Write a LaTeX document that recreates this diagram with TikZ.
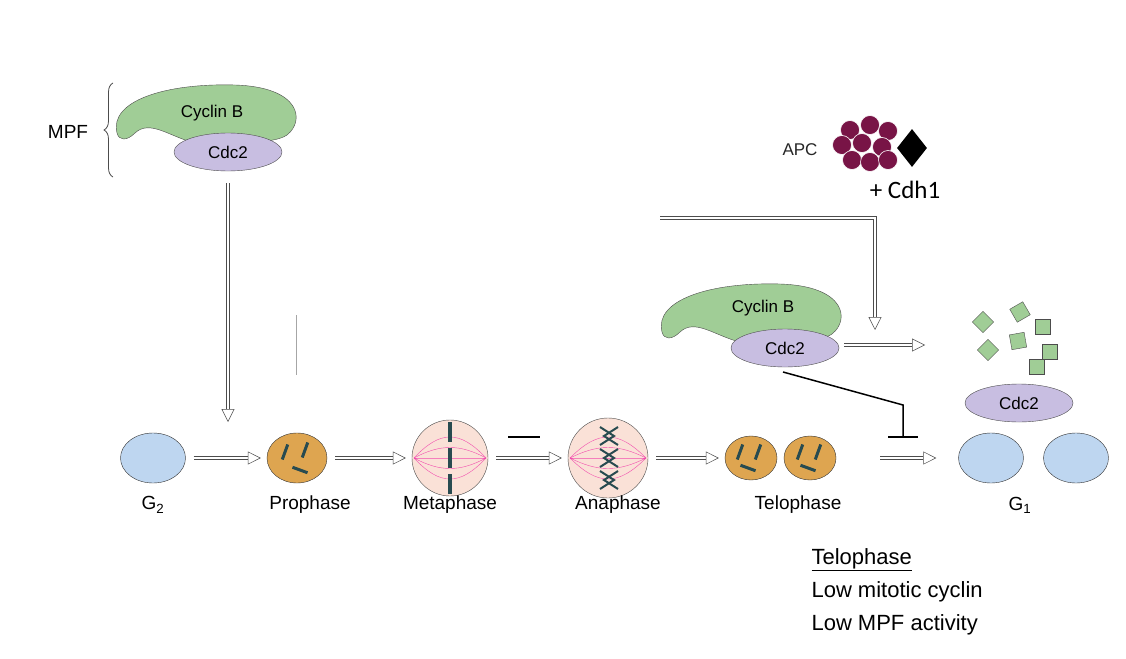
\documentclass[tikz,border=0pt]{standalone}
\usepackage{fontspec}
\setmainfont{Liberation Sans}
\newfontfamily\calib{Carlito}
\usetikzlibrary{arrows.meta,decorations.pathreplacing,shapes.geometric}
\definecolor{cellblue}{RGB}{190,214,240}
\definecolor{cyclin}{RGB}{160,205,150}
\definecolor{cdc}{RGB}{200,190,225}
\definecolor{proph}{RGB}{222,165,80}
\definecolor{spind}{RGB}{250,225,215}
\definecolor{apc}{RGB}{120,20,70}
\definecolor{chrom}{RGB}{40,75,80}
\tikzset{
  dbl/.style={draw=gray!60!black,double=white,double distance=2.4pt,line width=0.5pt,
    -{Triangle[open,length=13pt,width=13pt,fill=white]}},
  phasearr/.style={dbl,shorten <=8pt,shorten >=6pt},
  cell/.style={ellipse,draw=black!80,fill=cellblue,minimum width=65pt,minimum height=50pt},
  cdc2/.style={ellipse,draw=black!70,fill=cdc,minimum width=108pt,minimum height=38pt,font=\fontsize{17}{17}\selectfont},
  lab/.style={font=\fontsize{19}{19}\selectfont},
  note/.style={font=\fontsize{22}{26}\selectfont,anchor=west}
}
\newcommand\cyclinblob[2]{%
  \draw[black!70,fill=cyclin,shift={(#1,#2)}] (-88,20) .. controls (-96,-12) and (-40,-30) .. (30,-28)
    .. controls (96,-26) and (100,8) .. (82,22) .. controls (68,32) and (20,30) .. (-10,30)
    .. controls (-35,24) and (-55,6) .. (-70,20) .. controls (-78,28) and (-86,28) .. (-88,20) -- cycle;}
\begin{document}
\begin{tikzpicture}[x=1pt,y=-1pt]
\useasboundingbox[fill=white] (0,0) rectangle (1126,658);
% MPF complex
\node[lab] (mpf) at (68,132) {MPF};
\draw[decorate,decoration={brace,amplitude=9pt},black!70,line width=0.8pt] (113,177) -- (113,83);
\cyclinblob{205}{113}
\node[font=\fontsize{17}{17}\selectfont] (cycA) at (212,113) {Cyclin B};
\node[cdc2] (cdcA) at (228,152) {Cdc2};
% stages
\node[cell] (g2) at (153,458) {};
\node[ellipse,draw=black!80,fill=proph,minimum width=60pt,minimum height=50pt] (pro) at (297,458) {};
\node[circle,draw=black!70,fill=spind,minimum size=76pt] (meta) at (450,458) {};
\node[circle,draw=black!70,fill=spind,minimum size=80pt] (ana) at (608,458) {};
\node[ellipse,draw=black!80,fill=proph,minimum width=52pt,minimum height=44pt] (telA) at (751,458) {};
\node[ellipse,draw=black!80,fill=proph,minimum width=52pt,minimum height=44pt] (telB) at (810,458) {};
\node[cell] (g1A) at (991,458) {};
\node[cell] (g1B) at (1076,458) {};
% chromosomes
\foreach \x/\y/\r in {285/452/70,305/450/70,300/470/-20,740/452/70,758/452/70,748/468/-20,800/452/70,818/452/70,808/468/-20}
  \draw[chrom,line width=3pt,rotate around={\r:(\x,\y)}] (\x-8,\y) -- (\x+8,\y);
% spindles
\foreach \c/\w in {meta/36,ana/38}{
  \foreach \a in {-28,-14,0,14,28}{
    \draw[magenta!70,thin] ([xshift=-\w pt]\c.center) .. controls ([xshift=-10pt,yshift=\a pt]\c.center) and ([xshift=10pt,yshift=\a pt]\c.center) .. ([xshift=\w pt]\c.center);}}
\foreach \y in {432,458,484} \draw[chrom,line width=3.5pt] (450,\y-10) -- (450,\y+10);
\foreach \y in {436,458,480} \draw[chrom,line width=2pt] (600,\y-9) -- (614,\y) -- (600,\y+9);
\foreach \y in {436,458,480} \draw[chrom,line width=2pt] (618,\y-9) -- (604,\y) -- (618,\y+9);
% labels
\node[lab] (lg2) at (153,505) {G\textsubscript{2}};
\node[lab] (lpro) at (310,505) {Prophase};
\node[lab] (lmeta) at (450,505) {Metaphase};
\node[lab] (lana) at (618,505) {Anaphase};
\node[lab] (ltel) at (798,505) {Telophase};
\node[lab] (lg1) at (1020,505) {G\textsubscript{1}};
% progression arrows
\draw[phasearr] (g2) -- (pro);
\draw[phasearr] (pro) -- (meta);
\draw[phasearr] (meta) -- (ana);
\draw[phasearr] (ana) -- (telA);
\draw[dbl,shorten <=44pt,shorten >=22pt] (telB) -- (g1A);
\coordinate (mpfEnd) at (228,422);
\draw[dbl,shorten <=12pt] (cdcA) -- (mpfEnd);
\draw[gray!70,line width=0.8pt] (296,315) -- (296,375);
\draw[black,line width=1.5pt] (508,437) -- (540,437);
% APC
\node[font=\fontsize{17}{17}\selectfont,gray!30!black] (apcl) at (800,150) {APC};
\foreach \x/\y in {850/130,870/125,888/131,842/145,862/143,882/147,852/160,870/162,888/160}
  \filldraw[apc,draw=white,line width=0.6pt] (\x,\y) circle (9.5pt);
\node[diamond,fill=black,minimum width=30pt,minimum height=38pt,inner sep=0pt] (cdh) at (912,148) {};
\node[font=\calib\fontsize{25}{25}\selectfont] (cdhl) at (905,190) {+ Cdh1};
\coordinate (apcS) at (660,218);
\coordinate (apcE) at (875,330);
\draw[dbl] (apcS) -| (apcE);
% Cyclin B / Cdc2 at telophase
\cyclinblob{750}{312}
\node[font=\fontsize{17}{17}\selectfont] (cycB) at (763,308) {Cyclin B};
\node[cdc2] (cdcB) at (785,348) {Cdc2};
\coordinate (deg) at (925,345);
\draw[dbl] ([xshift=5pt]cdcB.east |- deg) -- (deg);
\foreach \x/\y/\r in {983/322/45,1020/312/30,1043/327/0,988/350/45,1018/341/10,1050/352/0,1037/367/0}
  \node[draw=black!70,fill=cyclin,minimum size=15pt,inner sep=0pt,rotate=\r] at (\x,\y) {};
\node[cdc2] (cdcC) at (1019,403) {Cdc2};
\coordinate (inh) at (903,437);
\draw[line width=1.5pt] (783,372) -- (903,405) -- (inh);
\draw[line width=1.5pt] (888,437) -- (918,437);
% notes
\node[note] (n1) at (808,560) {\underline{Telophase}};
\node[note] (n2) at (808,592) {Low mitotic cyclin};
\node[note] (n3) at (808,625) {Low MPF activity};
\end{tikzpicture}
\end{document}
